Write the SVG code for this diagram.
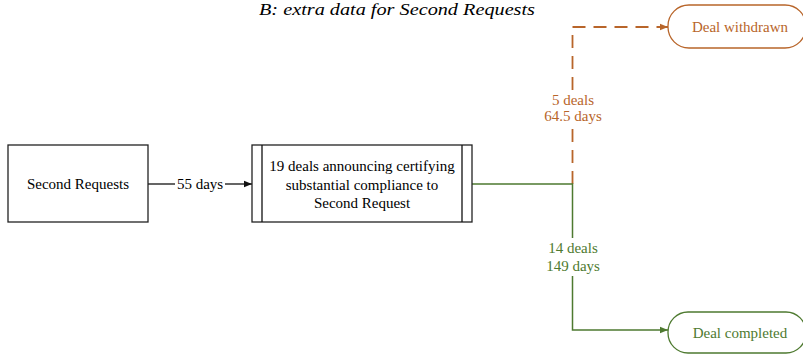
<svg xmlns="http://www.w3.org/2000/svg" width="803" height="354" viewBox="0 0 803 354">
<style>
text{font-family:"Liberation Serif","Times New Roman",serif;font-size:15px;text-anchor:middle;dominant-baseline:central}
.box{fill:#fff;stroke:#222;stroke-width:1.3}
.blk{stroke:#111;stroke-width:1.3;fill:none}
.grn{stroke:#4e7a30;stroke-width:1.5;fill:none}
.org{stroke:#b8652a;stroke-width:1.8;fill:none;stroke-dasharray:13 8}
.gt{fill:#4e7a30}
.ot{fill:#b8652a}
</style>
<defs>
<marker id="ab" viewBox="0 0 10 10" refX="10" refY="5" markerWidth="8" markerHeight="8" markerUnits="userSpaceOnUse" orient="auto"><path d="M0,1 L10,5 L0,9 z" fill="#111"/></marker>
<marker id="ag" viewBox="0 0 10 10" refX="10" refY="5" markerWidth="8" markerHeight="8" markerUnits="userSpaceOnUse" orient="auto"><path d="M0,1 L10,5 L0,9 z" fill="#4e7a30"/></marker>
<marker id="ao" viewBox="0 0 10 10" refX="10" refY="5" markerWidth="8" markerHeight="8" markerUnits="userSpaceOnUse" orient="auto"><path d="M0,1 L10,5 L0,9 z" fill="#b8652a"/></marker>
</defs>
<rect width="803" height="354" fill="#fff"/>
<text x="397" y="9" style="font-style:italic;font-size:16px" textLength="276" lengthAdjust="spacingAndGlyphs">B: extra data for Second Requests</text>
<g id="connectors">
<path class="blk" d="M148,184 H175"/>
<path class="blk" d="M225,184 H252" marker-end="url(#ab)"/>
<text x="200" y="184">55 days</text>
<path class="org" d="M572.5,184 V126 M572.5,90 V27 H668" marker-end="url(#ao)"/>
<text class="ot" x="573" y="100">5 deals</text>
<text class="ot" x="573" y="116">64.5 days</text>
<path class="grn" d="M472,184 H572.5 V238 M572.5,276 V330 H668" marker-end="url(#ag)"/>
<text class="gt" x="573" y="248">14 deals</text>
<text class="gt" x="573" y="266">149 days</text>
</g>
<g id="second-requests">
<rect class="box" x="8" y="145" width="140" height="77"/>
<text x="78" y="184">Second Requests</text>
</g>
<g id="nineteen-deals">
<rect class="box" x="252" y="145" width="220" height="77"/>
<path class="blk" d="M262,145 V222 M462,145 V222"/>
<text x="362" y="166">19 deals announcing certifying</text>
<text x="362" y="185">substantial compliance to</text>
<text x="362" y="203">Second Request</text>
</g>
<g id="deal-withdrawn">
<rect x="668" y="5" width="138" height="43" rx="21" fill="#fff" stroke="#b8652a" stroke-width="1.3"/>
<text class="ot" x="740" y="27">Deal withdrawn</text>
</g>
<g id="deal-completed">
<rect x="668" y="312" width="138" height="41" rx="20" fill="#fff" stroke="#4e7a30" stroke-width="1.3"/>
<text class="gt" x="740" y="333">Deal completed</text>
</g>
</svg>
